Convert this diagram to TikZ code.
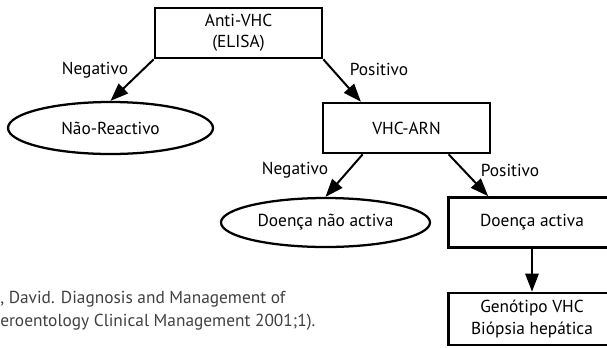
\documentclass[tikz,border=0pt]{standalone}
\usepackage{fontspec}
\setmainfont{PT Sans}
\usetikzlibrary{arrows.meta,shapes.geometric}
\begin{document}
\begin{tikzpicture}[x=0.75pt,y=-0.75pt,font=\fontsize{13}{16}\selectfont,line join=miter,>={Triangle[length=13.5pt,width=10pt]}]
\tikzset{caixa/.style={draw,line width=2pt,align=center,inner sep=0pt,minimum width=125.25pt,minimum height=37.5pt},
  oval/.style={draw,ellipse,line width=1.7pt,inner sep=0pt},
  seta/.style={->,line width=1.5pt},
  rot/.style={inner sep=0pt}}
\useasboundingbox (0,0) rectangle (607,347);
\node[caixa] (anti) at (238.5,33) {Anti-VHC\\(ELISA)};
\node[oval,minimum width=153.75pt,minimum height=39pt] (nr) at (110.5,128) {Não-Reactivo};
\node[caixa] (arn) at (406.5,128) {VHC-ARN};
\node[oval,minimum width=156.75pt,minimum height=36.75pt] (dna) at (325.5,222.5) {Doença não activa};
\node[caixa] (da) at (532,222.5) {Doença activa};
\node[caixa,minimum height=39pt] (gen) at (532,319) {Genótipo VHC\\Biópsia hepática};
\draw[seta] (anti.south west) -- (nr.north);
\draw[seta] (anti.south east) -- (arn.150);
\draw[seta] (arn.211) -- (dna.north);
\draw[seta] (arn.328) -- (da.149);
\draw[seta] (da.south) -- (gen.north);
\node[rot] (neg1) at (95,70) {Negativo};
\node[rot] (pos1) at (379,69) {Positivo};
\node[rot] (neg2) at (295,170) {Negativo};
\node[rot] (pos2) at (510,170) {Positivo};
\node[rot,anchor=west,align=left,text=black!75,font=\fontsize{13}{17}\selectfont] (ref) at (0,311) {, David. Diagnosis and Management of\\eroentology Clinical Management 2001;1).};
\end{tikzpicture}
\end{document}
